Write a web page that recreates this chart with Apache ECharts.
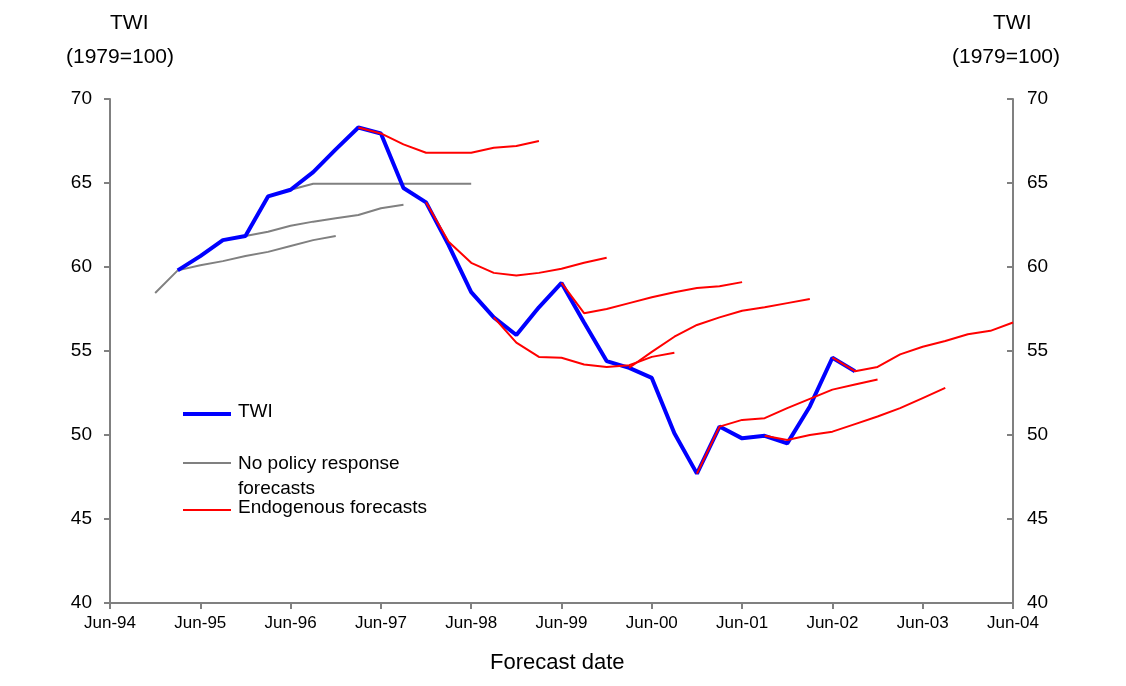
<!DOCTYPE html>
<html>
<head>
<meta charset="utf-8">
<script src="https://cdn.jsdelivr.net/npm/echarts@6/dist/echarts.min.js"></script>
<style>html,body{margin:0;padding:0;background:#fff}#c{width:1126px;height:686px}</style>
</head>
<body>
<div id="c"></div>
<script>
// x values are quarters since Jun-94
var tickLabels = ['Jun-94','Jun-95','Jun-96','Jun-97','Jun-98','Jun-99','Jun-00','Jun-01','Jun-02','Jun-03','Jun-04'];

var twiStart = 3;
var twi = [59.8,60.65,61.6,61.85,64.2,64.6,65.65,67.0,68.3,67.95,64.7,63.85,61.3,58.5,57.0,55.95,57.6,59.05,56.7,54.4,54.0,53.4,50.1,47.7,50.5,49.8,49.95,49.5,51.7,54.6,53.8];

// no policy response forecasts: [start quarter, values]
var noPolicy = [
    [2, [58.45,59.8,60.1,60.35,60.65,60.9,61.25,61.6,61.85]],
    [6, [61.85,62.1,62.45,62.7,62.9,63.1,63.5,63.7]],
    [8, [64.6,64.95,64.95,64.95,64.95,64.95,64.95,64.95,64.95]]
];

// endogenous forecasts
var endo = [
    [11, [68.3,67.95,67.3,66.8,66.8,66.8,67.1,67.2,67.5]],
    [14, [63.85,61.5,60.25,59.65,59.5,59.65,59.9,60.25,60.55]],
    [17, [57.0,55.5,54.65,54.6,54.2,54.05,54.15,54.65,54.9]],
    [20, [59.05,57.25,57.5,57.85,58.2,58.5,58.75,58.85,59.1]],
    [23, [54.0,54.95,55.85,56.55,57.0,57.4,57.6,57.85,58.1]],
    [26, [47.7,50.5,50.9,51.0,51.6,52.15,52.7,53.0,53.3]],
    [29, [49.95,49.7,50.0,50.2,50.65,51.1,51.6,52.2,52.8]],
    [32, [54.6,53.8,54.05,54.8,55.25,55.6,56.0,56.2,56.7]]
];

function pts(start, vals) {
    return vals.map(function (v, i) { return [start + i, v]; });
}

var series = [];
noPolicy.forEach(function (s) {
    series.push({type: 'line', data: pts(s[0], s[1]), symbol: 'none',
        lineStyle: {color: '#808080', width: 2}, z: 2});
});
endo.forEach(function (s) {
    series.push({type: 'line', data: pts(s[0], s[1]), symbol: 'none',
        lineStyle: {color: '#ff0000', width: 2}, z: 4});
});
series.push({type: 'line', data: pts(twiStart, twi), symbol: 'none',
    lineStyle: {color: '#0000ff', width: 4}, z: 3});

var font = 'Liberation Sans, Arial, sans-serif';
var yAx = function (pos) {
    return {type: 'value', position: pos, min: 40, max: 70, interval: 5,
        axisLine: {show: true, lineStyle: {color: '#808080', width: 2}},
        axisTick: {show: true, inside: pos === 'right', length: 6, lineStyle: {color: '#808080', width: 2}},
        splitLine: {show: false},
        axisLabel: {color: '#000', fontSize: 19, fontFamily: font, margin: pos === 'right' ? 14 : 18}};
};

var chart = echarts.init(document.getElementById('c'));
chart.setOption({
    animation: false,
    grid: {left: 110, right: 113, top: 99, bottom: 83},
    xAxis: {type: 'value', min: 0, max: 40, interval: 4,
        axisLine: {lineStyle: {color: '#808080', width: 2}},
        axisTick: {length: 6, lineStyle: {color: '#808080', width: 2}},
        splitLine: {show: false},
        axisLabel: {color: '#000', fontSize: 17, fontFamily: font, margin: 12,
            formatter: function (v) { return tickLabels[v / 4]; }}},
    yAxis: [yAx('left'), yAx('right')],
    series: series,
    graphic: [
        {type: 'text', left: 110, top: 13, style: {text: 'TWI', font: '21px ' + font, fill: '#000'}},
        {type: 'text', left: 66, top: 47, style: {text: '(1979=100)', font: '21px ' + font, fill: '#000'}},
        {type: 'text', left: 993, top: 13, style: {text: 'TWI', font: '21px ' + font, fill: '#000'}},
        {type: 'text', left: 952, top: 47, style: {text: '(1979=100)', font: '21px ' + font, fill: '#000'}},
        {type: 'text', left: 490, top: 652, style: {text: 'Forecast date', font: '22px ' + font, fill: '#000'}},
        {type: 'line', shape: {x1: 183, y1: 414, x2: 231, y2: 414}, style: {stroke: '#0000ff', lineWidth: 4}},
        {type: 'text', left: 238, top: 402, style: {text: 'TWI', font: '19px ' + font, fill: '#000'}},
        {type: 'line', shape: {x1: 183, y1: 463, x2: 231, y2: 463}, style: {stroke: '#808080', lineWidth: 2}},
        {type: 'text', left: 238, top: 451, style: {text: 'No policy response\nforecasts', font: '19px ' + font, fill: '#000', lineHeight: 25}},
        {type: 'line', shape: {x1: 183, y1: 510, x2: 231, y2: 510}, style: {stroke: '#ff0000', lineWidth: 2}},
        {type: 'text', left: 238, top: 498, style: {text: 'Endogenous forecasts', font: '19px ' + font, fill: '#000'}}
    ]
});
</script>
</body>
</html>
